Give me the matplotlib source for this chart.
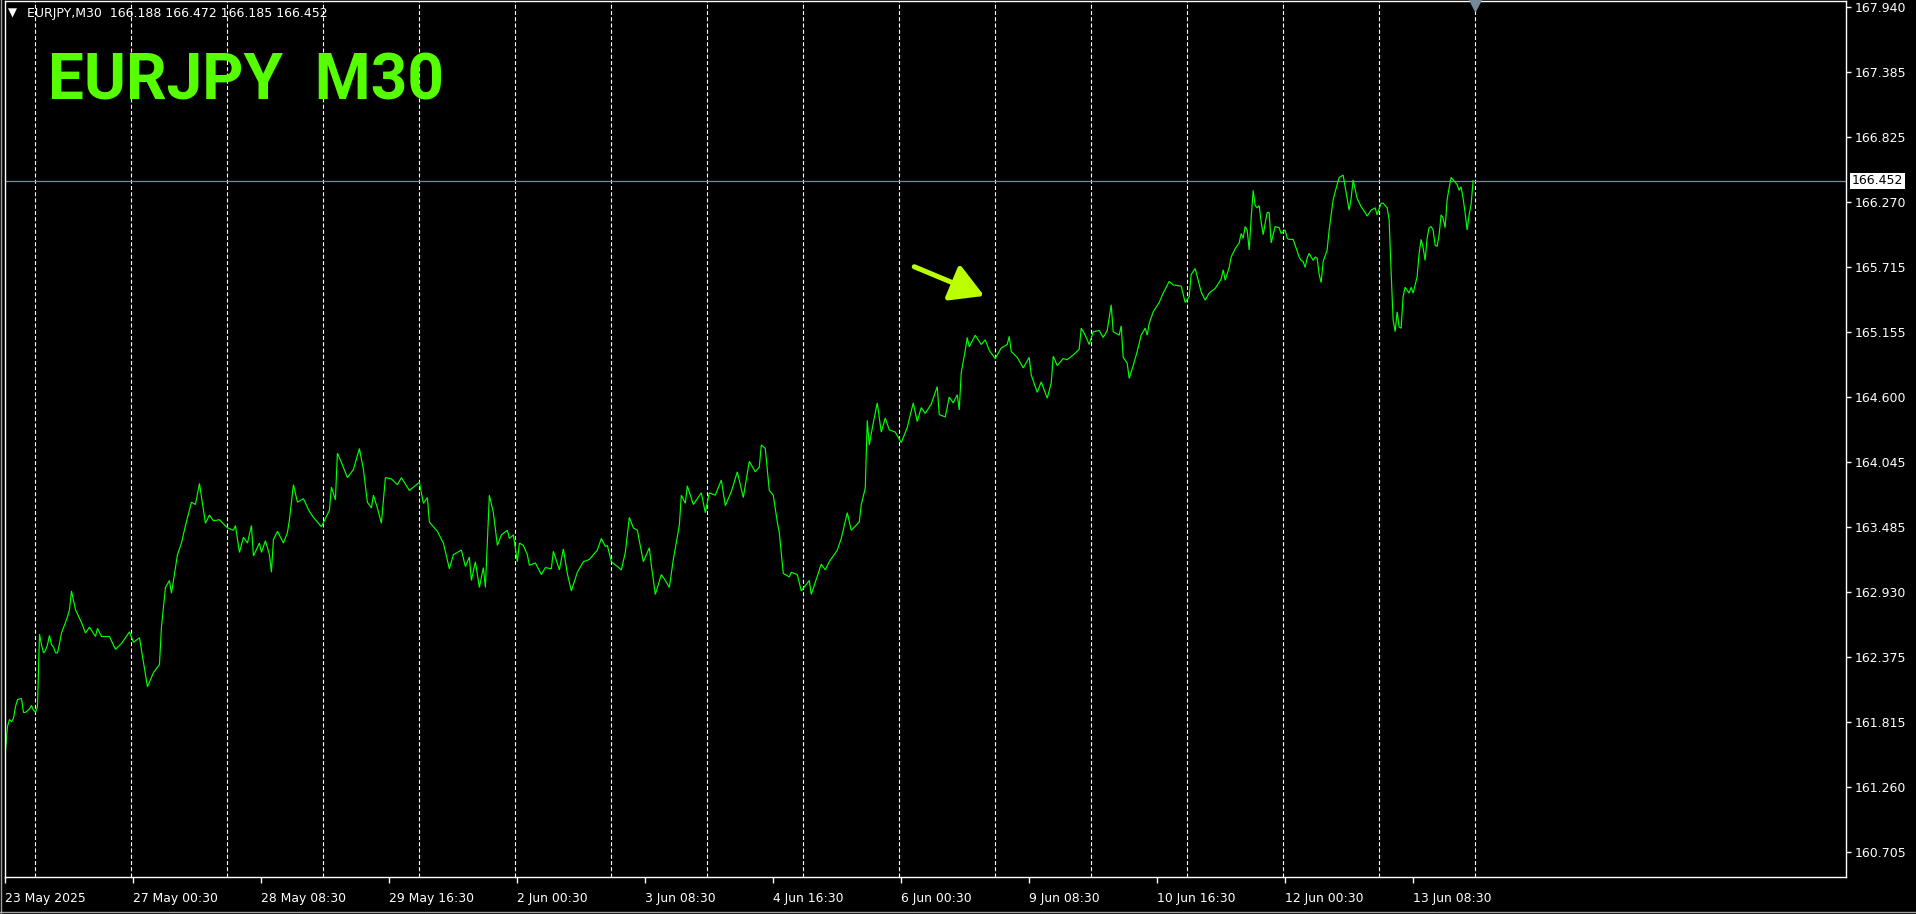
import matplotlib
matplotlib.use("Agg")
import matplotlib.pyplot as plt
from matplotlib.lines import Line2D

plt.rcParams["lines.scale_dashes"] = False

# ---------------- data ----------------
symbol = "EURJPY"
timeframe = "M30"
last_ohlc = [166.188, 166.472, 166.185, 166.452]
last_price = 166.452

# bar index (M30 bars since the first bar on the chart) and close price
bars = [0, 1, 2, 3, 4, 5, 6, 8, 9, 10, 12, 13, 14, 15, 16, 17, 18, 19, 20, 21,
        22, 23, 24, 25, 26, 27, 28, 30, 31, 32, 33, 35, 38, 40, 42, 45, 46, 48, 52, 55,
        58, 62, 64, 67, 71, 74, 77, 78, 80, 82, 83, 86, 88, 90, 93, 95, 97, 100, 102, 104,
        107, 111, 114, 115, 117, 119, 121, 123, 124, 127, 128, 130, 132, 133, 134, 136, 139, 141, 142, 144,
        146, 149, 152, 154, 158, 162, 163, 165, 166, 168, 171, 174, 177, 179, 181, 183, 184, 186, 188, 190,
        193, 196, 198, 202, 207, 209, 211, 212, 216, 219, 222, 224, 228, 230, 232, 233, 235, 237, 239, 240,
        242, 244, 246, 248, 251, 252, 254, 256, 257, 259, 261, 262, 265, 268, 270, 273, 274, 277, 279, 281,
        283, 286, 289, 292, 296, 298, 300, 301, 303, 306, 308, 310, 312, 314, 316, 319, 322, 323, 325, 328,
        330, 332, 334, 337, 338, 340, 341, 344, 348, 350, 352, 355, 358, 360, 363, 366, 369, 372, 375, 377,
        378, 380, 382, 384, 386, 387, 389, 392, 393, 396, 398, 402, 403, 408, 410, 412, 416, 418, 421, 423,
        427, 428, 430, 431, 432, 434, 436, 438, 440, 442, 445, 448, 451, 454, 456, 458, 460, 463, 466, 467,
        470, 472, 474, 476, 477, 478, 480, 481, 482, 485, 488, 490, 492, 495, 498, 501, 502, 503, 506, 509,
        512, 513, 516, 518, 521, 523, 524, 526, 529, 531, 534, 537, 538, 540, 542, 544, 547, 549, 551, 553,
        554, 557, 558, 559, 561, 562, 564, 566, 568, 570, 571, 572, 574, 577, 579, 582, 584, 588, 590, 592,
        593, 595, 598, 600, 602, 605, 608, 609, 610, 612, 613, 615, 617, 618, 619, 620, 621, 622, 623, 624,
        625, 626, 627, 628, 629, 630, 631, 632, 633, 634, 635, 637, 638, 640, 641, 642, 644, 645, 647, 648,
        649, 650, 651, 652, 654, 655, 656, 657, 658, 659, 661, 662, 664, 666, 667, 669, 670, 672, 673, 674,
        676, 678, 680, 681, 683, 685, 686, 688, 689, 691, 692, 693, 694, 695, 696, 697, 698, 699, 700, 702,
        703, 704, 706, 707, 708, 709, 710, 711, 712, 713, 714, 715, 716, 717, 718, 719, 720, 721, 722, 723,
        724, 726, 727, 728, 729, 730, 731, 732, 733, 734]

closes = [161.58, 161.78, 161.84, 161.82, 161.85, 161.95, 162.01, 162.02, 161.90, 161.90,
          161.93, 161.96, 161.92, 161.90, 161.95, 162.57, 162.48, 162.41, 162.43, 162.48,
          162.56, 162.48, 162.46, 162.41, 162.41, 162.49, 162.58, 162.67, 162.72, 162.78,
          162.94, 162.78, 162.67, 162.58, 162.63, 162.55, 162.62, 162.55, 162.55, 162.44,
          162.49, 162.59, 162.50, 162.54, 162.12, 162.24, 162.31, 162.63, 162.97, 163.03,
          162.92, 163.25, 163.35, 163.50, 163.70, 163.68, 163.86, 163.52, 163.59, 163.54,
          163.55, 163.48, 163.46, 163.50, 163.27, 163.40, 163.35, 163.50, 163.24, 163.35,
          163.27, 163.37, 163.25, 163.10, 163.38, 163.45, 163.35, 163.44, 163.55, 163.85,
          163.70, 163.73, 163.62, 163.57, 163.49, 163.63, 163.83, 163.72, 164.12, 164.04,
          163.91, 163.98, 164.16, 163.98, 163.70, 163.65, 163.76, 163.65, 163.52, 163.91,
          163.90, 163.85, 163.91, 163.80, 163.87, 163.69, 163.74, 163.53, 163.45, 163.35,
          163.13, 163.25, 163.29, 163.15, 163.23, 163.03, 163.19, 162.97, 163.14, 162.97,
          163.76, 163.61, 163.33, 163.42, 163.46, 163.39, 163.42, 163.19, 163.35, 163.33,
          163.25, 163.16, 163.18, 163.08, 163.14, 163.13, 163.28, 163.12, 163.30, 163.09,
          162.94, 163.10, 163.19, 163.21, 163.29, 163.39, 163.32, 163.33, 163.19, 163.15,
          163.12, 163.27, 163.57, 163.48, 163.46, 163.19, 163.31, 163.16, 162.91, 163.08,
          163.03, 162.97, 163.21, 163.50, 163.76, 163.69, 163.84, 163.68, 163.78, 163.61,
          163.78, 163.76, 163.89, 163.67, 163.79, 163.96, 163.74, 164.05, 163.96, 164.00,
          164.19, 164.16, 163.80, 163.76, 163.53, 163.44, 163.09, 163.06, 163.10, 163.08,
          162.94, 163.03, 162.91, 163.17, 163.12, 163.19, 163.29, 163.39, 163.61, 163.46,
          163.53, 163.68, 163.82, 164.40, 164.19, 164.38, 164.55, 164.30, 164.42, 164.32,
          164.30, 164.21, 164.34, 164.55, 164.39, 164.51, 164.46, 164.54, 164.69, 164.45,
          164.43, 164.60, 164.55, 164.62, 164.49, 164.81, 165.00, 165.11, 165.03, 165.13,
          165.05, 165.09, 165.00, 164.93, 165.02, 165.05, 165.12, 164.99, 164.94, 164.85,
          164.94, 164.79, 164.64, 164.73, 164.59, 164.72, 164.95, 164.87, 164.93, 164.92,
          164.96, 165.01, 165.19, 165.13, 165.05, 165.16, 165.17, 165.11, 165.17, 165.39,
          165.16, 165.13, 165.21, 164.94, 164.89, 164.76, 164.87, 164.99, 165.13, 165.19,
          165.13, 165.23, 165.33, 165.41, 165.49, 165.59, 165.56, 165.55, 165.41, 165.46,
          165.65, 165.70, 165.50, 165.43, 165.49, 165.53, 165.61, 165.69, 165.60, 165.71,
          165.80, 165.87, 165.92, 166.00, 165.96, 166.06, 166.03, 165.86, 166.13, 166.37,
          166.24, 166.22, 166.24, 166.10, 165.99, 166.09, 166.18, 166.18, 165.92, 165.99,
          166.06, 166.05, 166.00, 166.03, 165.96, 165.95, 165.95, 165.90, 165.80, 165.77,
          165.76, 165.71, 165.79, 165.83, 165.77, 165.80, 165.79, 165.65, 165.58, 165.76,
          165.86, 166.03, 166.29, 166.42, 166.48, 166.50, 166.40, 166.20, 166.30, 166.46,
          166.30, 166.23, 166.18, 166.15, 166.20, 166.22, 166.16, 166.26, 166.26, 166.22,
          166.12, 165.67, 165.26, 165.16, 165.33, 165.20, 165.19, 165.46, 165.54, 165.49,
          165.54, 165.49, 165.63, 165.83, 165.95, 165.88, 165.77, 165.96, 166.05, 166.06,
          166.03, 165.90, 165.89, 165.99, 166.16, 166.13, 166.05, 166.29, 166.39, 166.48,
          166.46, 166.42, 166.37, 166.40, 166.30, 166.18, 166.03, 166.16, 166.25, 166.452]

y_ticks = [160.705, 161.260, 161.815, 162.375, 162.930, 163.485, 164.045,
           164.600, 165.155, 165.715, 166.270, 166.825, 167.385, 167.940]
x_tick_bars = [0, 64, 128, 192, 256, 320, 384, 448, 512, 576, 640, 704]
x_tick_labels = ["23 May 2025", "27 May 00:30", "28 May 08:30", "29 May 16:30",
                 "2 Jun 00:30", "3 Jun 08:30", "4 Jun 16:30", "6 Jun 00:30",
                 "9 Jun 08:30", "10 Jun 16:30", "12 Jun 00:30", "13 Jun 08:30"]
day_separator_bars = [15, 63, 111, 159, 207, 255, 303, 351, 399, 447,
                      495, 543, 591, 639, 687, 735]
shift_marker_bar = 735
arrow_tail = (454.5, 165.716)
arrow_tip = (489.5, 165.466)

# ---------------- figure ----------------
W, H = 1916, 914
fig = plt.figure(figsize=(W / 100, H / 100), dpi=100, facecolor="black")
ax = fig.add_axes([4.5 / W, 37 / H, (1846 - 4.5) / W, (913 - 37) / H])
ax.set_facecolor("black")

ax.set_xlim(-0.5, 920.5)
ax.set_ylim(160.491, 167.991)

for s in ax.spines.values():
    s.set_color("white")
    s.set_linewidth(1.0)

# daily separators
for b in day_separator_bars:
    ax.axvline(b, color="white", lw=0.8, ls=(0, (2.9, 1.6)), zorder=1)

# last price line
ax.axhline(last_price, color="#778899", lw=0.9, zorder=1.5)

# price line
ax.plot(bars, closes, color="#00ff00", lw=0.85, zorder=2, solid_joinstyle="miter")

# arrow annotation
ax.annotate("", xy=arrow_tip, xytext=arrow_tail,
            arrowprops=dict(arrowstyle="-|>,head_length=0.42,head_width=0.24",
                            color="#bbff00", lw=3.6, mutation_scale=48,
                            shrinkA=0, shrinkB=0), zorder=3)

# chart shift marker
ax.plot([shift_marker_bar], [167.960], marker="v", ms=8, color="#778899",
        mec="#778899", clip_on=False, zorder=4)

# y axis on the right
ax.yaxis.tick_right()
ax.set_yticks(y_ticks)
ax.set_yticklabels([f"{v:.3f}" for v in y_ticks])
ax.tick_params(axis="y", colors="white", length=3.5, width=1, pad=2.5,
               labelsize=9, labelcolor="white")

# x axis
ax.set_xticks(x_tick_bars)
ax.set_xticklabels(x_tick_labels)
ax.tick_params(axis="x", colors="white", length=4, width=1, pad=7,
               labelsize=8.9, labelcolor="white")
for lab in ax.get_xticklabels():
    lab.set_ha("left")

# last price label box
ax.annotate(f"{last_price:.3f}", xy=(1, last_price),
            xycoords=("axes fraction", "data"), xytext=(4.3, 0),
            textcoords="offset points", ha="left", va="center",
            color="black", fontsize=9,
            bbox=dict(boxstyle="square,pad=0.12", fc="white", ec="none"),
            annotation_clip=False, zorder=5)

# header line
fig.text(8 / W, 1 - 13 / H, "\u25bc", color="white", fontsize=8.5,
         va="center", ha="left")
fig.text(27 / W, 1 - 17 / H,
         f"{symbol},{timeframe}  " + " ".join(f"{v:.3f}" for v in last_ohlc),
         color="white", fontsize=9, va="baseline", ha="left")

# big title
fig.text(48 / W, 1 - 100 / H, f"{symbol}  {timeframe}", color="#55ff00",
         fontsize=46, fontweight="bold", family="Roboto",
         va="baseline", ha="left")

# window edge lines
fig.add_artist(Line2D([0.5 / W, 0.5 / W], [0, 1], transform=fig.transFigure,
                      color="#a0a0a0", lw=1))
fig.add_artist(Line2D([0, 1], [2 / H, 2 / H], transform=fig.transFigure,
                      color="#a0a0a0", lw=1))

fig.savefig("out.png", dpi=100, facecolor="black")
